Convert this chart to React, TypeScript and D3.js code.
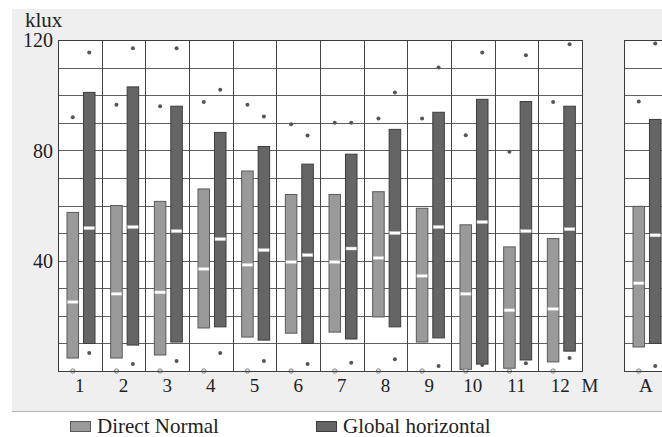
import React, { useEffect, useRef } from 'react';
import * as d3 from 'd3';

// monthly statistics, klux
const months = ['1', '2', '3', '4', '5', '6', '7', '8', '9', '10', '11', '12'];
const dnMax = [92, 96.5, 96, 97.5, 96.5, 89.5, 90, 91.5, 91.5, 85.5, 79.5, 97.5];
const dnHigh = [57.5, 60, 61.5, 66, 72.5, 64, 64, 65, 59, 53, 45, 48];
const dnMedian = [25, 28, 28.5, 37, 38.5, 39.5, 39.5, 41, 34.5, 28, 22, 22.5];
const dnLow = [4.7, 4.7, 5.8, 15.6, 12.3, 13.7, 14.1, 19.6, 10.5, 0.6, 1, 3.3];
const dnMin = [0, 0, 0, 0, 0, 0, 0, 0, 0, 0, 0, 0];
const ghMax = [115.5, 117, 117, 102, 92.3, 85.4, 90, 101, 110, 115.5, 114.5, 118.5];
const ghHigh = [101, 103, 96, 86.5, 81.4, 75, 78.6, 87.6, 93.8, 98.5, 97.7, 96];
const ghMedian = [51.8, 52.2, 50.7, 47.8, 43.8, 42, 44.4, 50, 52.2, 54, 50.7, 51.4];
const ghLow = [10, 9.4, 10.5, 16, 11.2, 10, 11.6, 16, 12, 2.5, 4, 7.2];
const ghMin = [6.5, 2.5, 3.6, 6.5, 3.6, 2.5, 3, 4.3, 1.8, 2.2, 2.8, 4.7];

// annual values: max, high, median, low, min
const annualDn = [97.7, 59.7, 31.8, 8.7, 0];
const annualGh = [118.7, 91.2, 49.2, 10, 1.8];

const yTicks = [40, 80, 120];
const seriesNames = ['Direct Normal', 'Global horizontal'];
const seriesColors = ['#9a9a9a', '#656565'];
const seriesStrokes = ['#5a5a5a', '#3c3c3c'];

const FONT = "'Liberation Serif', Tinos, 'DejaVu Serif', serif";

type Stat = { key: string; series: number; max: number; high: number; median: number; low: number; min: number };

function App() {
  const chartRef = useRef<SVGSVGElement>(null);

  useEffect(() => {
    const width = 662;
    const height = 437;
    const svg = d3.select(chartRef.current);
    svg.selectAll('*').remove();
    svg.attr('width', width).attr('height', height).style('font-family', FONT);

    // panel backdrop
    svg.append('rect').attr('x', 12).attr('y', 9).attr('width', width - 12).attr('height', 402).attr('fill', '#efefef');
    svg.append('line').attr('x1', 12).attr('x2', width).attr('y1', 411.5).attr('y2', 411.5).attr('stroke', '#b4b4b4');

    const y = d3.scaleLinear().domain([0, 120]).range([371, 40]);
    const xMonth = d3.scaleBand<string>().domain(months).range([58, 582]);
    const xAnnual = d3.scaleBand<string>().domain(['A']).range([624, 624 + xMonth.bandwidth()]);
    const inner = d3.scaleBand<number>().domain([0, 1]).range([9, 37]).paddingInner(0.3);

    const drawPanel = (x: d3.ScaleBand<string>, stats: Stat[]) => {
      const [x0, x1] = x.range();
      const g = svg.append('g');
      g.append('rect').attr('x', x0).attr('y', y(120)).attr('width', x1 - x0).attr('height', y(0) - y(120)).attr('fill', '#fff');

      // horizontal grid every 10 klux
      g.selectAll('.hgrid')
        .data(d3.range(10, 120, 10))
        .enter()
        .append('line')
        .attr('x1', x0)
        .attr('x2', x1)
        .attr('y1', (d) => Math.round(y(d)) + 0.5)
        .attr('y2', (d) => Math.round(y(d)) + 0.5)
        .attr('stroke', '#606060');

      // vertical grid at column boundaries
      g.selectAll('.vgrid')
        .data(x.domain().slice(1))
        .enter()
        .append('line')
        .attr('x1', (d) => Math.round(x(d)!) + 0.5)
        .attr('x2', (d) => Math.round(x(d)!) + 0.5)
        .attr('y1', y(120))
        .attr('y2', y(0))
        .attr('stroke', '#444');

      // bars (high to low range)
      g.selectAll('.bar')
        .data(stats)
        .enter()
        .append('rect')
        .attr('x', (d) => x(d.key)! + inner(d.series)!)
        .attr('width', inner.bandwidth())
        .attr('y', (d) => y(d.high))
        .attr('height', (d) => y(d.low) - y(d.high))
        .attr('fill', (d) => seriesColors[d.series])
        .attr('stroke', (d) => seriesStrokes[d.series])
        .attr('stroke-width', 1);

      // median marks
      g.selectAll('.median')
        .data(stats)
        .enter()
        .append('rect')
        .attr('x', (d) => x(d.key)! + inner(d.series)! + 0.5)
        .attr('width', inner.bandwidth() - 1)
        .attr('y', (d) => y(d.median) - 1.5)
        .attr('height', 3)
        .attr('fill', '#fff')
        .attr('stroke', '#bdbdbd')
        .attr('stroke-width', 0.5);

      // max dots
      g.selectAll('.maxdot')
        .data(stats)
        .enter()
        .append('circle')
        .attr('cx', (d) => x(d.key)! + inner(d.series)! + inner.bandwidth() / 2)
        .attr('cy', (d) => y(d.max))
        .attr('r', 2)
        .attr('fill', '#555');

      // min dots
      g.selectAll('.mindot')
        .data(stats)
        .enter()
        .append('circle')
        .attr('cx', (d) => x(d.key)! + inner(d.series)! + inner.bandwidth() / 2)
        .attr('cy', (d) => y(d.min))
        .attr('r', (d) => (d.min === 0 ? 2.2 : 2))
        .attr('fill', (d) => (d.min === 0 ? '#ddd' : '#555'))
        .attr('stroke', (d) => (d.min === 0 ? '#777' : 'none'))
        .attr('stroke-width', 0.8);

      // frame
      g.append('rect')
        .attr('x', x0 + 0.5)
        .attr('y', y(120) + 0.5)
        .attr('width', x1 - x0)
        .attr('height', y(0) - y(120))
        .attr('fill', 'none')
        .attr('stroke', '#3a3a3a');

      // category labels
      g.selectAll('.xlabel')
        .data(x.domain())
        .enter()
        .append('text')
        .attr('x', (d) => x(d)! + x.bandwidth() / 2)
        .attr('y', 392)
        .attr('text-anchor', 'middle')
        .attr('font-size', 19)
        .attr('fill', '#222')
        .text((d) => d);
    };

    const monthStats: Stat[] = [];
    months.forEach((m, i) => {
      monthStats.push({ key: m, series: 0, max: dnMax[i], high: dnHigh[i], median: dnMedian[i], low: dnLow[i], min: dnMin[i] });
      monthStats.push({ key: m, series: 1, max: ghMax[i], high: ghHigh[i], median: ghMedian[i], low: ghLow[i], min: ghMin[i] });
    });
    const annualStats: Stat[] = [annualDn, annualGh].map((a, s) => ({
      key: 'A', series: s, max: a[0], high: a[1], median: a[2], low: a[3], min: a[4],
    }));

    drawPanel(xMonth, monthStats);
    drawPanel(xAnnual, annualStats);

    // y tick labels
    svg
      .selectAll('.ytick')
      .data(yTicks)
      .enter()
      .append('text')
      .attr('x', 53)
      .attr('y', (d) => y(d))
      .attr('dy', '0.36em')
      .attr('text-anchor', 'end')
      .attr('font-size', 20)
      .attr('fill', '#222')
      .text((d) => d);

    // unit label
    svg.append('text').attr('x', 25).attr('y', 27).attr('font-size', 21).attr('fill', '#222').text('klux');

    // month axis name
    svg.append('text').attr('x', 590).attr('y', 392).attr('text-anchor', 'middle').attr('font-size', 19).attr('fill', '#222').text('M');

    // legend
    const legendX = [70, 316];
    seriesNames.forEach((name, i) => {
      svg.append('rect')
        .attr('x', legendX[i] + 0.5)
        .attr('y', 421.5)
        .attr('width', 20)
        .attr('height', 10)
        .attr('fill', seriesColors[i])
        .attr('stroke', seriesStrokes[i]);
      svg.append('text')
        .attr('x', legendX[i] + 27)
        .attr('y', 433)
        .attr('font-size', 21)
        .attr('fill', '#222')
        .text(name);
    });
  }, []);

  return <svg ref={chartRef} style={{ position: 'absolute', left: 0, top: 0 }} />;
}

export default App;
